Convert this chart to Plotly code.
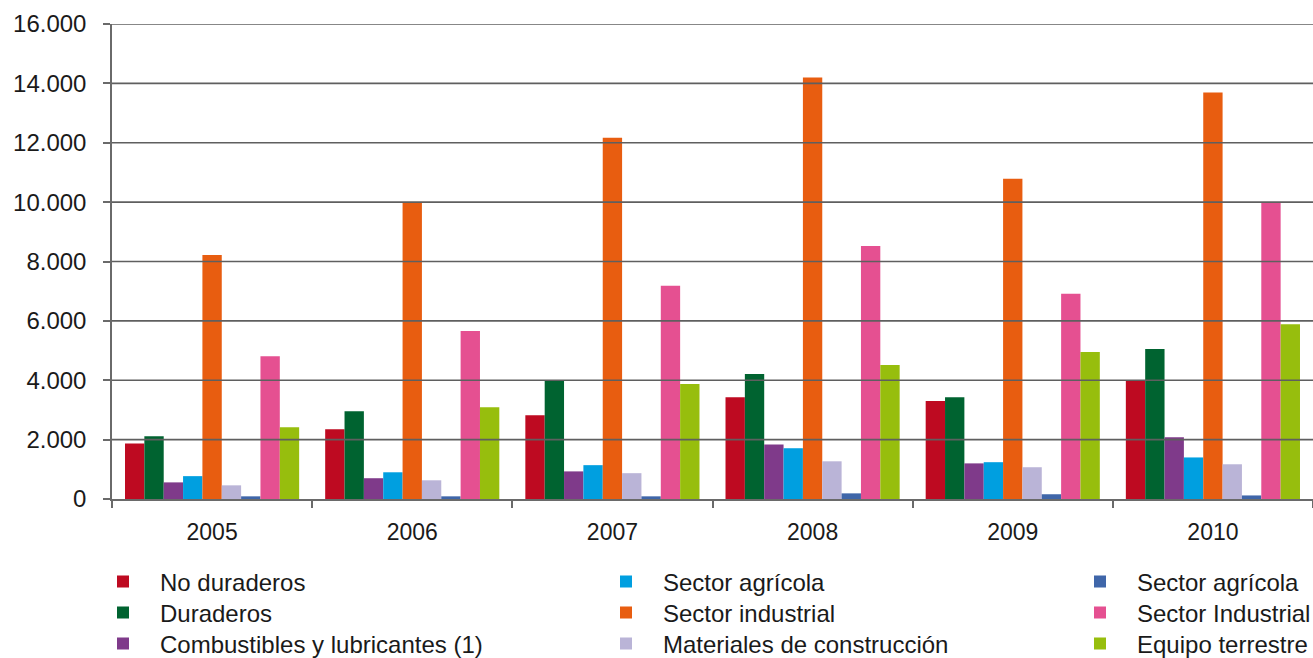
import plotly.graph_objects as go

years = ["2005", "2006", "2007", "2008", "2009", "2010"]

series_names = [
    "No duraderos", "Duraderos", "Combustibles y lubricantes (1)",
    "Sector agrícola", "Sector industrial", "Materiales de construcción",
    "Sector agrícola ", "Sector Industrial", "Equipo terrestre",
]

no_duraderos = [1870, 2350, 2820, 3430, 3300, 4000]
duraderos = [2110, 2960, 4000, 4210, 3430, 5050]
combustibles = [560, 700, 930, 1840, 1200, 2080]
sector_agricola_1 = [770, 900, 1140, 1710, 1240, 1400]
sector_industrial_1 = [8220, 9990, 12170, 14200, 10790, 13690]
materiales = [460, 630, 870, 1270, 1070, 1170]
sector_agricola_2 = [90, 90, 90, 190, 160, 120]
sector_industrial_2 = [4810, 5660, 7180, 8520, 6910, 9990]
equipo_terrestre = [2420, 3090, 3870, 4510, 4950, 5890]

values = [no_duraderos, duraderos, combustibles, sector_agricola_1,
          sector_industrial_1, materiales, sector_agricola_2,
          sector_industrial_2, equipo_terrestre]

colors = ["#BE0A21", "#006330", "#7F3A8A", "#009FE0", "#E85D10",
          "#BAB4D7", "#3F66A9", "#E55091", "#97BE0D"]

y_ticks = [0, 2000, 4000, 6000, 8000, 10000, 12000, 14000, 16000]

FONT = "Liberation Sans, Arial, sans-serif"

L, W = 112, 1201      # plot area left / width in px
T, H = 24, 475        # plot area top / height in px

def px(x):
    return (x - L) / W

def py(y):
    return (T + H - y) / H

# legend layout: 3 columns x 3 rows (column-major)
col_text_x = [160, 663, 1137]
row_y = [582, 613, 644]
ITEMWIDTH = 64
TEXT_OFFSET = 40 + (ITEMWIDTH - 30)

fig = go.Figure()
legends = {}
for i, (name, vals, col) in enumerate(zip(series_names, values, colors)):
    lid = "legend" if i == 0 else f"legend{i + 1}"
    fig.add_trace(go.Bar(x=years, y=vals, name=name, marker_color=col,
                         marker_line_width=0, legend=lid))
    c, r = divmod(i, 3)
    legends[lid] = dict(
        x=px(col_text_x[c] - TEXT_OFFSET), y=py(row_y[r]),
        xanchor="left", yanchor="middle", orientation="v",
        bgcolor="rgba(0,0,0,0)", itemwidth=ITEMWIDTH,
        font=dict(family=FONT, size=24, color="#1a1a1a"),
    )

# gridlines drawn above the bars
for t in y_ticks[1:]:
    fig.add_shape(type="line", xref="paper", yref="y", x0=0, x1=1, y0=t, y1=t,
                  line=dict(color="#5f5f5f", width=1.6), layer="above")

fig.update_layout(
    width=1313, height=658,
    margin=dict(l=L, r=1313 - L - W, t=T, b=658 - T - H, autoexpand=False),
    paper_bgcolor="white", plot_bgcolor="white",
    barmode="group", bargap=0.13, bargroupgap=0,
    separators=",.",
    showlegend=True,
    font=dict(family=FONT, color="#1a1a1a"),
    **legends,
)

fig.update_yaxes(
    range=[0, 16000], tickvals=y_ticks, tickformat=",d",
    showgrid=False, zeroline=False, automargin=False,
    showline=True, linecolor="#6a6a6a", linewidth=1.5,
    ticks="outside", ticklen=7, tickcolor="#6a6a6a", tickwidth=1.5,
    tickfont=dict(family=FONT, size=24, color="#1a1a1a"),
    ticklabelstandoff=12,
)
fig.update_xaxes(
    showgrid=False, showline=True, linecolor="#6a6a6a", linewidth=1.5, automargin=False,
    ticks="outside", tickson="boundaries", ticklen=7, tickcolor="#6a6a6a", tickwidth=1.5,
    tickfont=dict(family=FONT, size=23, color="#1a1a1a"),
    ticklabelstandoff=12,
)

fig.write_html("out.html", config={"displayModeBar": False},
               post_script="document.body.style.margin='0';")
